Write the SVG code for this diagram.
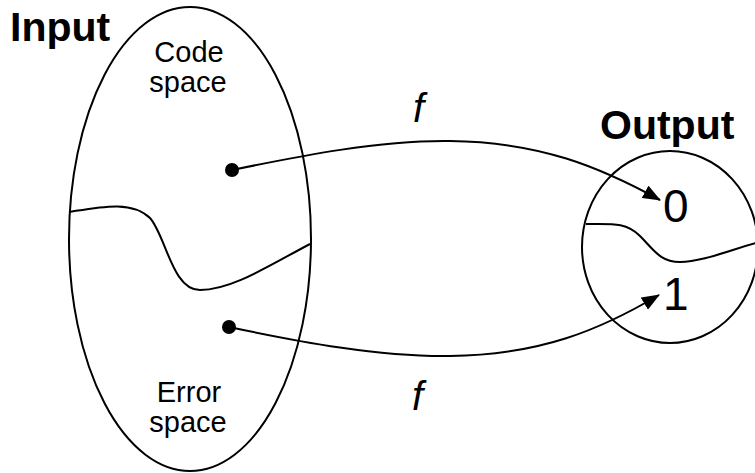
<svg xmlns="http://www.w3.org/2000/svg" width="755" height="473" viewBox="0 0 755 473">
<style>
.shape{fill:none;stroke:#000;stroke-width:2}
.lbl{font-family:"Liberation Sans",Arial,sans-serif;fill:#000}
.title{font-weight:bold;font-size:41px}
.sp{font-size:29px;text-anchor:middle}
.num{font-size:46px}
.fn{font-size:40px;font-style:italic}
.conn{fill:none;stroke:#000;stroke-width:2}
</style>
<defs>
<marker id="arrow" markerWidth="18" markerHeight="14" refX="17" refY="7" orient="auto" markerUnits="userSpaceOnUse">
<path d="M0,0 L18,7 L0,14 z" fill="#000"/>
</marker>
</defs>
<rect width="755" height="473" fill="#fff"/>
<g id="input">
<ellipse class="shape" cx="190" cy="239" rx="121" ry="232"/>
<path class="shape" d="M69,212 C100,207 132,200 150,218 C166,236 172,290 200,290 C232,290 270,265 310,244"/>
<text class="lbl title" x="10" y="41">Input</text>
<text class="lbl sp" x="189" y="62">Code</text>
<text class="lbl sp" x="188" y="92">space</text>
<text class="lbl sp" x="189" y="402">Error</text>
<text class="lbl sp" x="188" y="432">space</text>
</g>
<g id="output">
<ellipse class="shape" cx="670" cy="247" rx="88" ry="96"/>
<path class="shape" d="M586,224 C612,224 626,222 640,236 C654,250 660,262 680,262 C702,262 730,250 756,243"/>
<text class="lbl title" x="600" y="139">Output</text>
<text class="lbl num" x="663" y="222">0</text>
<text class="lbl num" x="663" y="310">1</text>
</g>
<g id="connectors">
<circle cx="232" cy="170" r="7" fill="#000"/>
<path class="conn" d="M232,170 C300,156 380,140 450,141 C540,142 600,167 660,200" marker-end="url(#arrow)"/>
<circle cx="229" cy="327" r="7" fill="#000"/>
<path class="conn" d="M229,327 C300,342 380,357 450,356 C540,355 600,330 659,295" marker-end="url(#arrow)"/>
<text class="lbl fn" x="413" y="122">f</text>
<text class="lbl fn" x="412" y="410">f</text>
</g>
</svg>
